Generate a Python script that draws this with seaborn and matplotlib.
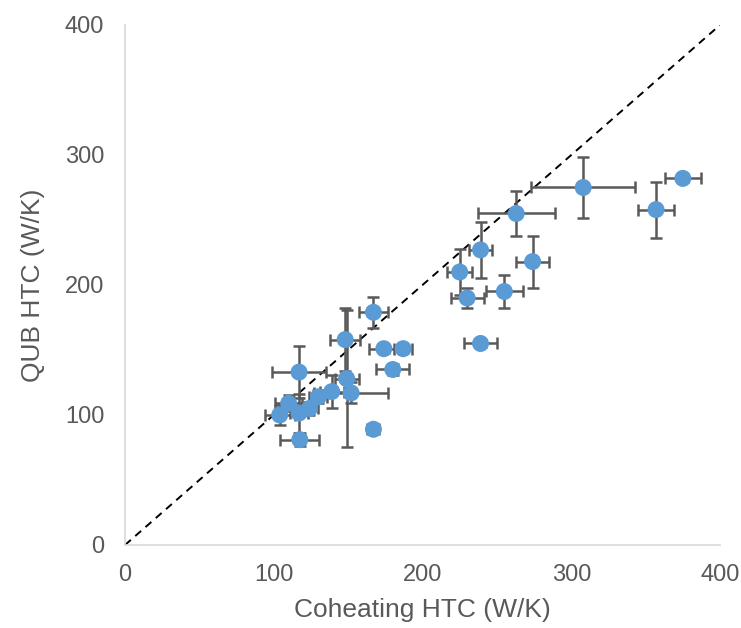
import numpy as np
import pandas as pd
import matplotlib
matplotlib.use("Agg")
import matplotlib.pyplot as plt
import seaborn as sns

sns.set_style("white")
plt.rcParams['font.family'] = ['Liberation Sans', 'DejaVu Sans']

# coheating vs QUB heat transfer coefficient (W/K), with error bars
coheating = [104, 110, 117, 117, 117.5, 124, 130, 139, 149, 152, 148, 167, 174, 187, 180, 167,
             239, 230, 225, 239, 255, 274, 263, 308, 357, 375]
qub = [100, 109, 101.5, 133, 81, 105, 114, 118, 128, 117, 158, 179, 151, 151, 135, 89,
       155, 190, 210, 227, 195, 218, 255, 275, 258, 282]
coheating_err = [10, 9, 6, 18, 13, 6, 6, 8, 8, 25, 10, 10, 10, 6, 11, 4,
                 11, 11, 8.5, 8, 12.5, 11, 26, 35, 12, 12]
qub_err = [8, 6, 15, 20, 5, 5, 5, 13, 53, 8, 24, 12, 3, 3, 4, 3,
           3, 8, 17.5, 21.5, 13, 20, 17, 23.5, 21.5, 3]

df = pd.DataFrame({"coheating": coheating, "qub": qub,
                   "xerr": coheating_err, "yerr": qub_err})

fig = plt.figure(figsize=(7.41, 6.28), dpi=100)
ax = fig.add_axes([0.1687, 0.1322, 0.803, 0.828])

ax.plot([0, 400], [0, 400], ls=(0, (4, 3)), color="black", lw=1.4, zorder=1)

ax.errorbar(df["coheating"], df["qub"], xerr=df["xerr"], yerr=df["yerr"],
            fmt="none", ecolor="#595959", elinewidth=1.8, capsize=4.5, capthick=1.8, zorder=2)
sns.scatterplot(data=df, x="coheating", y="qub", ax=ax, color="#5B9BD5",
                s=150, edgecolor="none", zorder=3)

ax.set_xlim(0, 400)
ax.set_ylim(0, 400)
ax.set_xticks([0, 100, 200, 300, 400])
ax.set_yticks([0, 100, 200, 300, 400])
ax.tick_params(axis="both", length=0, labelsize=17, labelcolor="#595959")
ax.tick_params(axis="x", pad=14)
ax.tick_params(axis="y", pad=15)
ax.set_xlabel("Coheating HTC (W/K)", fontsize=19, color="#595959", labelpad=8)
ax.set_ylabel("QUB HTC (W/K)", fontsize=19, color="#595959", labelpad=14)

for s in ["top", "right"]:
    ax.spines[s].set_visible(False)
for s in ["left", "bottom"]:
    ax.spines[s].set_color("#d9d9d9")
    ax.spines[s].set_linewidth(1.2)

fig.savefig("out.png", dpi=100)
